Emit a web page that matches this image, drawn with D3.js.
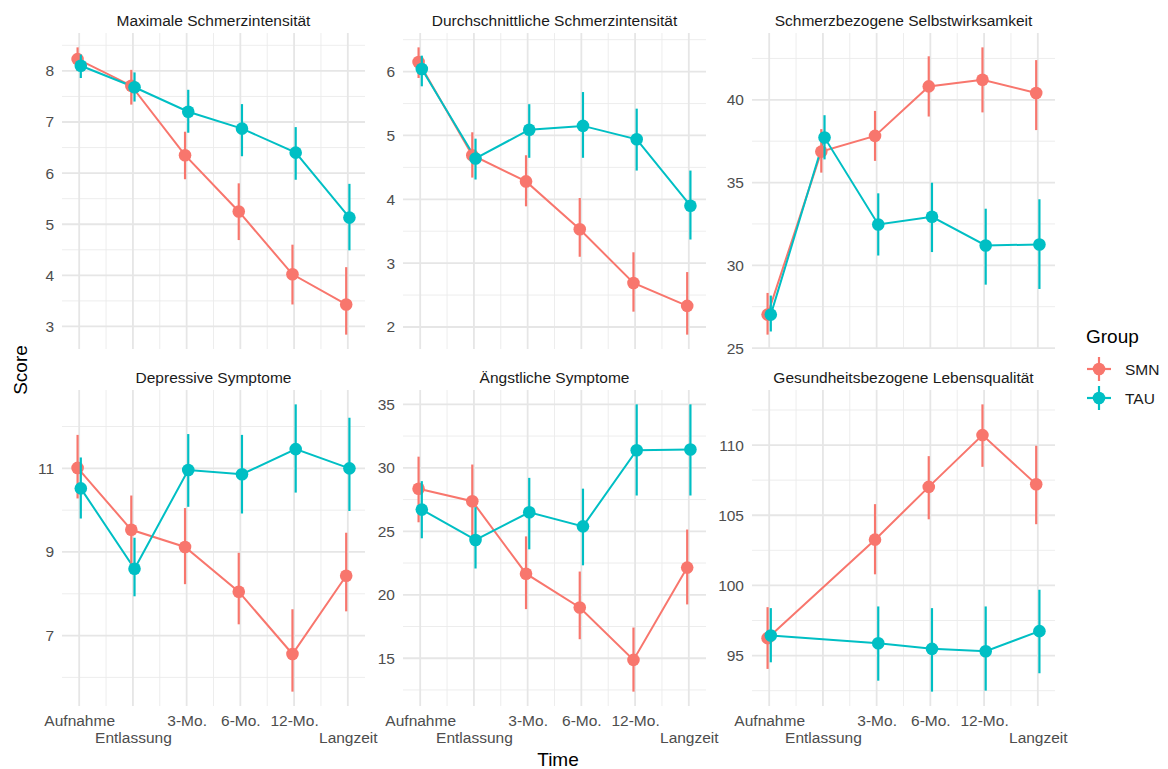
<!DOCTYPE html>
<html lang="de">
<head>
<meta charset="UTF-8">
<title>Score over Time</title>
<style>
  body { margin: 0; background: #fff; }
  svg { font-family: "Liberation Sans", Arial, sans-serif; }
  .axis text { fill: #4d4d4d; font-size: 15.5px; }
  .axis path { display: none; }
  .strip { fill: #1a1a1a; font-size: 15.5px; }
</style>
</head>
<body>
<svg width="1168" height="769"></svg>
<script src="https://cdn.jsdelivr.net/npm/d3@7"></script>
<script>
// data
var panelTitles = ["Maximale Schmerzintensität", "Durchschnittliche Schmerzintensität",
    "Schmerzbezogene Selbstwirksamkeit", "Depressive Symptome", "Ängstliche Symptome",
    "Gesundheitsbezogene Lebensqualität"];
var times = ["Aufnahme", "\nEntlassung", "3-Mo.", "6-Mo.", "12-Mo.", "\nLangzeit"];
var groups = ["SMN", "TAU"];
var groupColors = ["#F8766D", "#00BFC4"];

var smnMean = [
    [8.23, 7.71, 6.35, 5.25, 4.02, 3.43],
    [6.15, 4.69, 4.28, 3.53, 2.69, 2.33],
    [27.02, 36.87, 37.82, 40.81, 41.21, 40.41],
    [11.01, 9.53, 9.12, 8.05, 6.56, 8.43],
    [28.35, 27.37, 21.66, 19.0, 14.87, 22.14],
    [96.24, null, 103.26, 107.02, 110.71, 107.21]
];
var smnLow = [
    [8.00, 7.34, 5.88, 4.69, 3.43, 2.84],
    [5.90, 4.34, 3.89, 3.10, 2.24, 1.88],
    [25.81, 35.6, 36.31, 38.99, 39.24, 38.17],
    [10.28, 8.72, 8.23, 7.27, 5.66, 7.58],
    [25.71, 24.6, 18.87, 16.5, 12.37, 19.24],
    [94.05, null, 100.79, 104.71, 108.45, 104.36]
];
var smnHigh = [
    [8.46, 8.02, 6.81, 5.80, 4.60, 4.16],
    [6.38, 5.05, 4.69, 4.02, 3.17, 2.86],
    [28.33, 38.23, 39.33, 42.63, 43.17, 42.40],
    [11.80, 10.35, 10.05, 8.98, 7.63, 9.46],
    [30.88, 30.26, 24.60, 21.83, 17.42, 25.14],
    [98.45, null, 105.79, 109.21, 112.9, 109.95]
];
var tauMean = [
    [8.10, 7.68, 7.20, 6.87, 6.40, 5.13],
    [6.04, 4.64, 5.09, 5.15, 4.94, 3.90],
    [27.02, 37.72, 32.47, 32.93, 31.20, 31.26],
    [10.52, 8.60, 10.96, 10.86, 11.46, 11.0],
    [26.71, 24.32, 26.50, 25.39, 31.39, 31.45],
    [96.43, null, 95.88, 95.48, 95.31, 96.74]
];
var tauLow = [
    [7.86, 7.40, 6.79, 6.33, 5.87, 4.49],
    [5.77, 4.31, 4.65, 4.65, 4.45, 3.37],
    [26.0, 36.4, 30.59, 30.80, 28.83, 28.57],
    [9.80, 7.94, 10.08, 9.92, 10.42, 9.98],
    [24.45, 22.07, 23.58, 22.32, 27.82, 27.82],
    [94.52, null, 93.21, 92.43, 92.5, 93.74]
];
var tauHigh = [
    [8.32, 7.97, 7.63, 7.35, 6.90, 5.79],
    [6.25, 4.95, 5.49, 5.68, 5.42, 4.45],
    [28.17, 39.07, 34.35, 34.99, 33.42, 33.99],
    [11.26, 9.34, 11.82, 11.80, 12.53, 12.21],
    [28.95, 26.90, 29.21, 28.36, 35.0, 35.0],
    [98.38, null, 98.5, 98.38, 98.5, 99.69]
];
var yTicks = [
    [3, 4, 5, 6, 7, 8],
    [2, 3, 4, 5, 6],
    [25, 30, 35, 40],
    [7, 9, 11],
    [15, 20, 25, 30, 35],
    [95, 100, 105, 110]
];

var svg = d3.select("svg");
var colX = [62, 403, 752],
    rowY = [33, 390],
    pw = 303,
    ph = 316,
    dodge = 0.03;

var means = [smnMean, tauMean], lows = [smnLow, tauLow], highs = [smnHigh, tauHigh];

panelTitles.forEach(function (title, p) {
    var col = p % 3, row = Math.floor(p / 3);
    var g = svg.append("g").attr("transform", "translate(" + colX[col] + "," + rowY[row] + ")");

    var x = d3.scaleLinear().domain([0.68, 6.32]).range([0, pw]);
    var lo = d3.min(smnLow[p].concat(tauLow[p])),
        hi = d3.max(smnHigh[p].concat(tauHigh[p])),
        pad = (hi - lo) * 0.05;
    var y = d3.scaleLinear().domain([lo - pad, hi + pad]).range([ph, 0]);

    // minor grid
    var step = yTicks[p][1] - yTicks[p][0];
    var yMinor = [];
    for (var v = yTicks[p][0] - step / 2; v <= hi + pad; v += step) {
        if (v >= lo - pad) yMinor.push(v);
    }
    g.selectAll(".hminor").data(yMinor).enter().append("line")
        .attr("x1", 0).attr("x2", pw)
        .attr("y1", y).attr("y2", y)
        .style("stroke", "#ebebeb").style("stroke-width", 0.9);
    g.selectAll(".vminor").data([1.5, 2.5, 3.5, 4.5, 5.5]).enter().append("line")
        .attr("x1", x).attr("x2", x)
        .attr("y1", 0).attr("y2", ph)
        .style("stroke", "#ebebeb").style("stroke-width", 0.9);
    // major grid
    g.selectAll(".hmajor").data(yTicks[p]).enter().append("line")
        .attr("x1", 0).attr("x2", pw)
        .attr("y1", y).attr("y2", y)
        .style("stroke", "#e6e6e6").style("stroke-width", 1.8);
    g.selectAll(".vmajor").data([1, 2, 3, 4, 5, 6]).enter().append("line")
        .attr("x1", x).attr("x2", x)
        .attr("y1", 0).attr("y2", ph)
        .style("stroke", "#e6e6e6").style("stroke-width", 1.8);

    // strip title
    g.append("text").attr("class", "strip")
        .attr("x", pw / 2).attr("y", -13)
        .attr("text-anchor", "middle").attr("dominant-baseline", "central")
        .text(title);

    // y axis
    g.append("g").attr("class", "axis")
        .call(d3.axisLeft(y).tickValues(yTicks[p]).tickSize(0).tickPadding(8).tickFormat(d3.format("d")));

    // x axis on bottom row only
    if (row === 1) {
        var xa = g.append("g").attr("class", "axis")
            .attr("transform", "translate(0," + ph + ")")
            .call(d3.axisBottom(x).tickValues([1, 2, 3, 4, 5, 6]).tickSize(0).tickPadding(3)
                .tickFormat(function (d) { return times[d - 1].replace("\n", ""); }));
        xa.selectAll("text").attr("dy", function (d) {
            return times[d - 1].charAt(0) === "\n" ? "2.22em" : "1.12em";
        });
    }

    // lines, then point ranges
    groups.forEach(function (grp, k) {
        var off = k === 0 ? -dodge : dodge;
        var pts = means[k][p].map(function (m, i) {
            return {t: i + 1, m: m, lo: lows[k][p][i], hi: highs[k][p][i]};
        }).filter(function (d) { return d.m != null; });

        g.append("path").datum(pts)
            .attr("d", d3.line().x(function (d) { return x(d.t + off); }).y(function (d) { return y(d.m); }))
            .style("fill", "none").style("stroke", groupColors[k]).style("stroke-width", 2);
    });
    groups.forEach(function (grp, k) {
        var off = k === 0 ? -dodge : dodge;
        var pts = means[k][p].map(function (m, i) {
            return {t: i + 1, m: m, lo: lows[k][p][i], hi: highs[k][p][i]};
        }).filter(function (d) { return d.m != null; });

        g.selectAll(".err" + k).data(pts).enter().append("line")
            .attr("x1", function (d) { return x(d.t + off); })
            .attr("x2", function (d) { return x(d.t + off); })
            .attr("y1", function (d) { return y(d.lo); })
            .attr("y2", function (d) { return y(d.hi); })
            .style("stroke", groupColors[k]).style("stroke-width", 2.2);
        g.selectAll(".pt" + k).data(pts).enter().append("circle")
            .attr("cx", function (d) { return x(d.t + off); })
            .attr("cy", function (d) { return y(d.m); })
            .attr("r", 6.3)
            .style("fill", groupColors[k]);
    });
});

// axis titles
svg.append("text").attr("x", 558).attr("y", 759)
    .attr("text-anchor", "middle").attr("dominant-baseline", "central")
    .style("font-size", "19px").style("fill", "#000").text("Time");
svg.append("text").attr("transform", "translate(20,370) rotate(-90)")
    .attr("text-anchor", "middle").attr("dominant-baseline", "central")
    .style("font-size", "19px").style("fill", "#000").text("Score");

// legend
var legend = svg.append("g").attr("transform", "translate(1086,0)");
legend.append("text").attr("x", 0).attr("y", 336)
    .attr("dominant-baseline", "central")
    .style("font-size", "19px").style("fill", "#000").text("Group");
groups.forEach(function (grp, k) {
    var cy = 369 + k * 29, cx = 13;
    legend.append("line").attr("x1", cx).attr("x2", cx).attr("y1", cy - 12).attr("y2", cy + 12)
        .style("stroke", groupColors[k]).style("stroke-width", 2.2);
    legend.append("line").attr("x1", cx - 12).attr("x2", cx + 12).attr("y1", cy).attr("y2", cy)
        .style("stroke", groupColors[k]).style("stroke-width", 2.2);
    legend.append("circle").attr("cx", cx).attr("cy", cy).attr("r", 6.3)
        .style("fill", groupColors[k]);
    legend.append("text").attr("x", 39).attr("y", cy)
        .attr("dominant-baseline", "central")
        .style("font-size", "15.5px").style("fill", "#1a1a1a").text(grp);
});
</script>
</body>
</html>
